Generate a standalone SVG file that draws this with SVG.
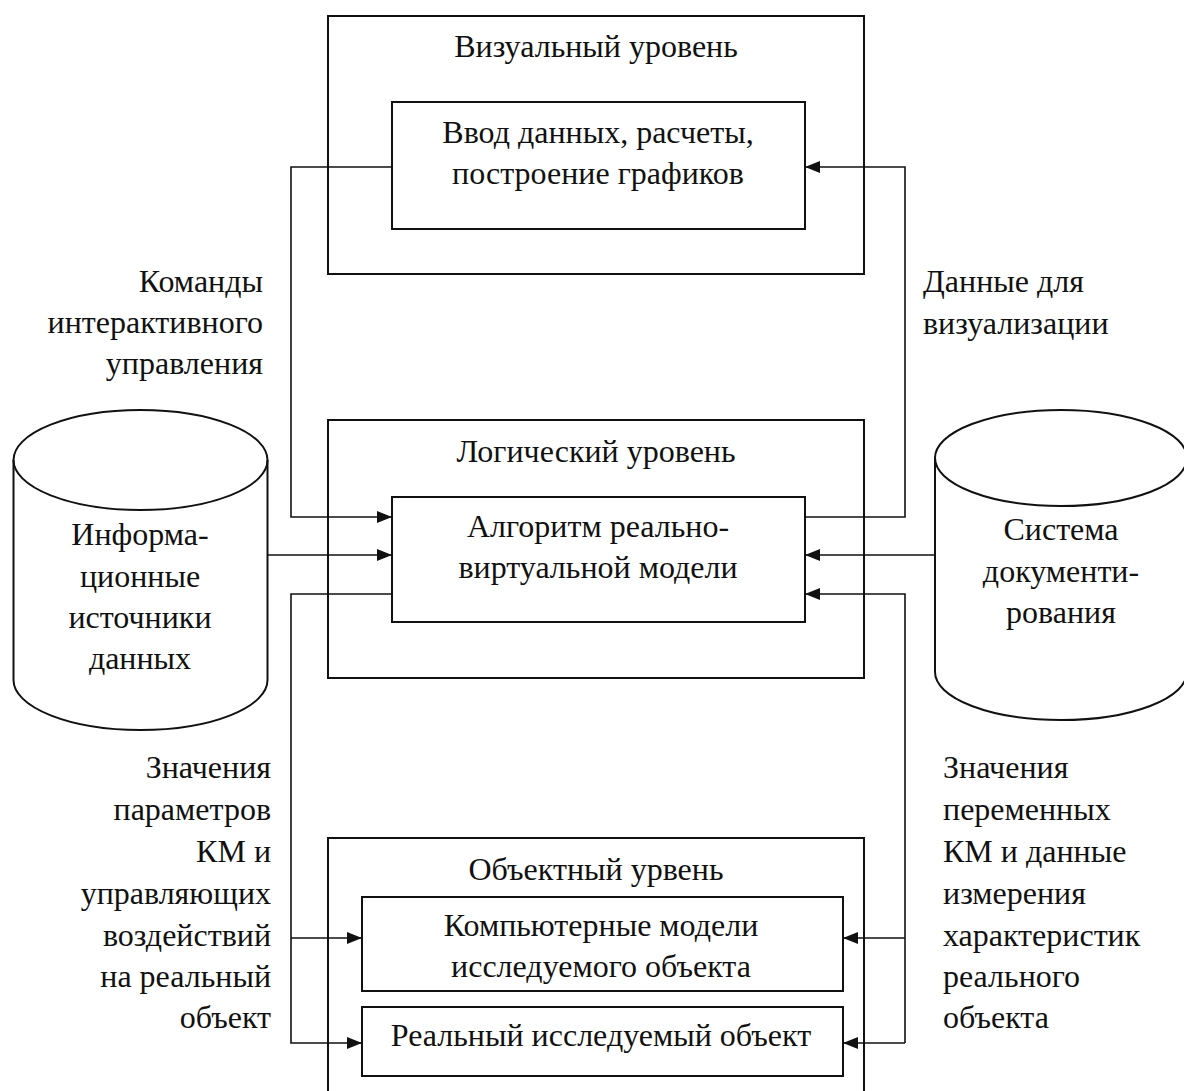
<svg xmlns="http://www.w3.org/2000/svg" width="1184" height="1091" viewBox="0 0 1184 1091" font-family="'Liberation Serif', 'Times New Roman', serif">
<style>
.box{fill:none;stroke:#111;stroke-width:2}
.ln{fill:none;stroke:#111;stroke-width:1.6}
text{font-family:'Liberation Serif','Times New Roman',serif;font-size:32px;fill:#111}
.c{text-anchor:middle}
.r{text-anchor:end}
</style>
<defs>
<marker id="ah" markerUnits="userSpaceOnUse" markerWidth="16" markerHeight="14" refX="15" refY="7" orient="auto">
<path d="M0,1 L15,7 L0,13 Z" fill="#111"/>
</marker>
</defs>
<rect width="1184" height="1091" fill="#fff"/>

<g id="visual-level">
<rect class="box" x="328" y="16" width="536" height="258"/>
<text class="c" x="596" y="57">Визуальный уровень</text>
</g>
<g id="visual-inner">
<rect class="box" x="392" y="102" width="413" height="127"/>
<text class="c" x="598" y="143">Ввод данных, расчеты,</text>
<text class="c" x="598" y="184">построение графиков</text>
</g>

<g id="logical-level">
<rect class="box" x="328" y="420" width="536" height="258"/>
<text class="c" x="596" y="462">Логический уровень</text>
</g>
<g id="logical-inner">
<rect class="box" x="392" y="497" width="413" height="125"/>
<text class="c" x="598" y="537">Алгоритм реально-</text>
<text class="c" x="598" y="578">виртуальной модели</text>
</g>

<g id="object-level">
<path class="box" d="M328,1095 V838 H864 V1095"/>
<text class="c" x="596" y="880">Объектный урвень</text>
</g>
<g id="computer-models">
<rect class="box" x="362" y="897" width="481" height="94"/>
<text class="c" x="601" y="936">Компьютерные модели</text>
<text class="c" x="601" y="977">исследуемого объекта</text>
</g>
<g id="real-object">
<rect class="box" x="362" y="1007" width="481" height="69"/>
<text class="c" x="601" y="1046">Реальный исследуемый объект</text>
</g>

<g id="info-sources">
<path class="box" d="M13.5,460 V680 A127,50 0 0 0 267.5,680 V460"/>
<ellipse class="box" cx="140.5" cy="460" rx="127" ry="50"/>
<text class="c" x="140" y="545">Информа-</text>
<text class="c" x="140" y="587">ционные</text>
<text class="c" x="140" y="628">источники</text>
<text class="c" x="140" y="669">данных</text>
</g>

<g id="doc-system">
<path class="box" d="M935,458 V672 A126,48 0 0 0 1187,672 V458"/>
<ellipse class="box" cx="1061" cy="458" rx="126" ry="48"/>
<text class="c" x="1061" y="540">Система</text>
<text class="c" x="1061" y="582">документи-</text>
<text class="c" x="1061" y="623">рования</text>
</g>

<g id="connectors">
<path class="ln" d="M392,167 H291 V517 H392" marker-end="url(#ah)"/>
<path class="ln" d="M805,517 H905 V167 H805" marker-end="url(#ah)"/>
<path class="ln" d="M268,555 H392" marker-end="url(#ah)"/>
<path class="ln" d="M935,555 H805" marker-end="url(#ah)"/>
<path class="ln" d="M392,594 H291 V1043 H362" marker-end="url(#ah)"/>
<path class="ln" d="M291,938 H362" marker-end="url(#ah)"/>
<path class="ln" d="M905,1043 H843" marker-end="url(#ah)"/>
<path class="ln" d="M905,938 H843" marker-end="url(#ah)"/>
<path class="ln" d="M905,1043 V594 H805" marker-end="url(#ah)"/>
</g>

<g id="labels">
<text class="r" x="263" y="292">Команды</text>
<text class="r" x="263" y="333">интерактивного</text>
<text class="r" x="263" y="374">управления</text>
<text x="923" y="292">Данные для</text>
<text x="923" y="334">визуализации</text>
<text class="r" x="271" y="778">Значения</text>
<text class="r" x="271" y="820">параметров</text>
<text class="r" x="271" y="862">КМ и</text>
<text class="r" x="271" y="904">управляющих</text>
<text class="r" x="271" y="946">воздействий</text>
<text class="r" x="271" y="987">на реальный</text>
<text class="r" x="271" y="1028">объект</text>
<text x="943" y="778">Значения</text>
<text x="943" y="820">переменных</text>
<text x="943" y="862">КМ и данные</text>
<text x="943" y="904">измерения</text>
<text x="943" y="946">характеристик</text>
<text x="943" y="987">реального</text>
<text x="943" y="1028">объекта</text>
</g>
</svg>
